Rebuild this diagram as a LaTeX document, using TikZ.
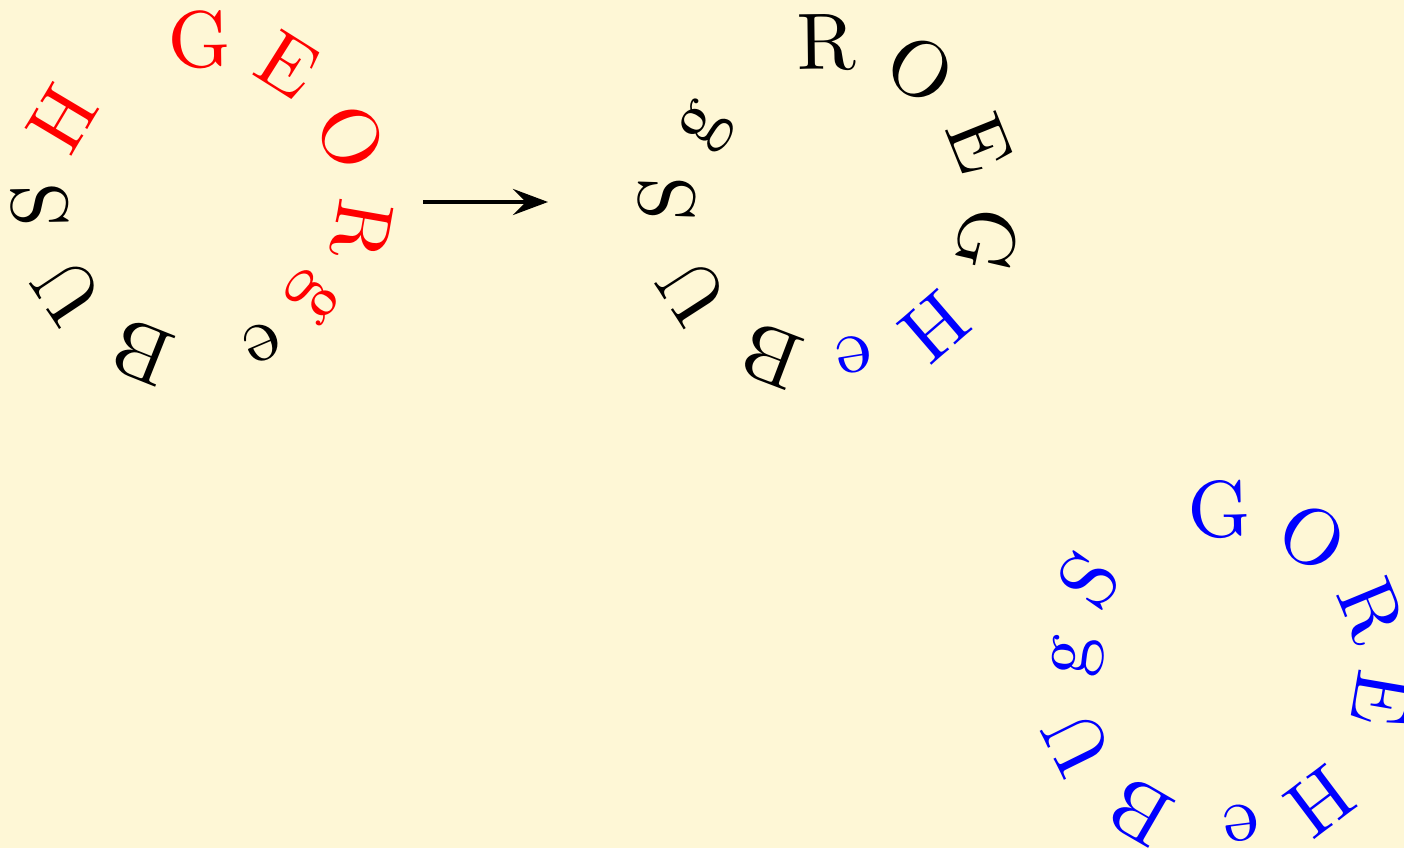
\documentclass[tikz,border=0pt]{standalone}
\usepackage{tikz}
\usetikzlibrary{arrows.meta}
\definecolor{paper}{RGB}{254,247,214}

\begin{document}
\begin{tikzpicture}[x=1pt, y=1pt,
    glyph/.style={scale=8, inner sep=0pt, anchor=base}]

    % Page and background
    \path[use as bounding box, clip] (0,0) rectangle (1404,848);
    \fill[paper] (0,0) rectangle (1404,848);

    % Left ring, letters sit on radius 135 with their tops facing out
    \begin{scope}[shift={(202,646)}]
        \node[glyph, red, rotate=0.7]    (lG) at (90.7:135)  {G};
        \node[glyph, red, rotate=-32.2]  (lE) at (57.8:135)  {E};
        \node[glyph, red, rotate=-66.3]  (lO) at (23.7:135)  {O};
        \node[glyph, red, rotate=-99.9]  (lR) at (-9.9:135)  {R};
        \node[glyph, red, rotate=-130.3] (lg) at (-40.3:135) {g};
        \node[glyph, rotate=-156.9]      (le) at (-66.9:135) {e};
        \node[glyph, rotate=-201.7]      (lB) at (-111.7:135) {B};
        \node[glyph, rotate=-236.4]      (lU) at (-146.4:135) {U};
        \node[glyph, rotate=91.1]        (lS) at (181.1:135) {S};
        \node[glyph, red, rotate=59.2]   (lH) at (149.2:135) {H};
    \end{scope}

    % Arrow between the first two rings
    \coordinate (from) at (423,646);
    \coordinate (to) at (548,646);
    \draw[line width=4.6pt, -{Stealth[length=35pt, width=26pt, inset=13pt]}] (from) -- (to);

    % Middle ring
    \begin{scope}[shift={(829,644)}]
        \node[glyph, rotate=0.7]         (mR) at (90.7:135)  {R};
        \node[glyph, rotate=-34.2]       (mO) at (55.8:135)  {O};
        \node[glyph, rotate=-68.1]       (mE) at (21.9:135)  {E};
        \node[glyph, rotate=-103]        (mG) at (-13:135)   {G};
        \node[glyph, blue, rotate=-139.2] (mH) at (-49.2:135) {H};
        \node[glyph, blue, rotate=-170.8] (me) at (-80.8:135) {e};
        \node[glyph, rotate=-200.8]      (mB) at (-110.8:135) {B};
        \node[glyph, rotate=-237.2]      (mU) at (-147.2:135) {U};
        \node[glyph, rotate=88.2]        (mS) at (178.2:135) {S};
        \node[glyph, rotate=57.9]        (mg) at (147.9:135) {g};
    \end{scope}

    % Right ring, cut by the page edge
    \begin{scope}[shift={(1222,176)}, blue]
        \node[glyph, rotate=1.1]    (rG) at (91.1:135)  {G};
        \node[glyph, rotate=-34]    (rO) at (56:135)    {O};
        \node[glyph, rotate=-67.5]  (rR) at (22.5:135)  {R};
        \node[glyph, rotate=-99.7]  (rE) at (-9.7:135)  {E};
        \node[glyph, rotate=-143]   (rH) at (-53:135)   {H};
        \node[glyph, rotate=-172.8] (re) at (-82.8:135) {e};
        \node[glyph, rotate=-210.1] (rB) at (-120.1:135) {B};
        \node[glyph, rotate=-243.7] (rU) at (-153.7:135) {U};
        \node[glyph, rotate=83.7]   (rg) at (173.7:135) {g};
        \node[glyph, rotate=55.3]   (rS) at (145.3:135) {S};
    \end{scope}

\end{tikzpicture}
\end{document}
